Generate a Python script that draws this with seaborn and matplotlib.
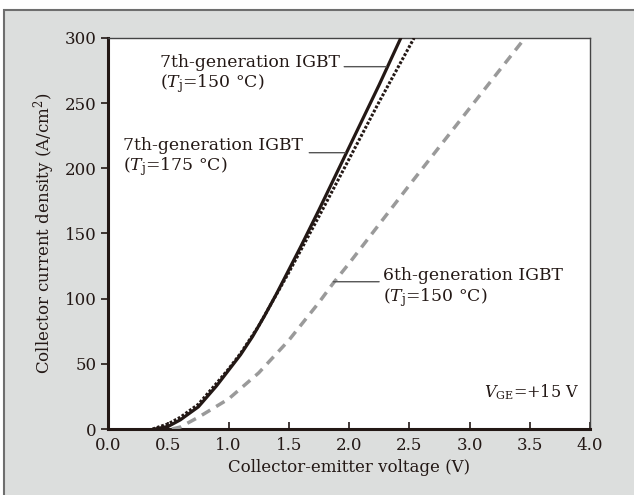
import pandas as pd
import matplotlib.pyplot as plt
import matplotlib.patches as patches
import seaborn as sns

# Curvas (V, A/cm2)
v_7g_150 = [0.39, 0.5, 0.6, 0.75, 0.9, 1.0, 1.1, 1.2, 1.3, 1.4, 1.5, 1.6, 1.75, 2.0, 2.25, 2.43]
j_7g_150 = [0, 2, 7, 17, 33, 45, 57, 71, 87, 104, 122, 140, 168, 216, 264, 300]

v_7g_175 = [0.37, 0.5, 0.6, 0.75, 0.9, 1.0, 1.1, 1.25, 1.5, 1.75, 2.0, 2.25, 2.54]
j_7g_175 = [0, 4, 9, 19, 35, 46, 58, 79, 120, 163, 207, 251, 300]

v_6g_150 = [0.53, 0.6, 0.75, 1.0, 1.25, 1.5, 1.75, 1.87, 2.0, 2.5, 3.0, 3.46]
j_6g_150 = [0, 1.5, 9, 23, 43, 68, 97, 112, 127, 187, 246, 300]

x_ticks = [0.0, 0.5, 1.0, 1.5, 2.0, 2.5, 3.0, 3.5, 4.0]
y_ticks = [0, 50, 100, 150, 200, 250, 300]

df = pd.concat([
    pd.DataFrame({'v': v_7g_150, 'j': j_7g_150, 'serie': '7g150'}),
    pd.DataFrame({'v': v_7g_175, 'j': j_7g_175, 'serie': '7g175'}),
    pd.DataFrame({'v': v_6g_150, 'j': j_6g_150, 'serie': '6g150'}),
])

sns.set_style('ticks')
plt.rcParams['font.family'] = ['DejaVu Serif']
plt.rcParams['mathtext.fontset'] = 'dejavuserif'

fig = plt.figure(figsize=(6.34, 4.95), dpi=100)
fig.patch.set_facecolor('white')

# Fondo gris con marco
fondo = patches.Rectangle((4 / 634, -0.05), 1.1, (495 - 10) / 495 + 0.05,
                          transform=fig.transFigure, facecolor='#dcdedd',
                          edgecolor='#6e6e6e', linewidth=1.5, zorder=-10)
fig.add_artist(fondo)

ax = fig.add_axes([108 / 634, 66 / 495, 482 / 634, 391 / 495])
ax.set_zorder(1)
ax.set_facecolor('white')

estilos = {
    '7g150': dict(color='#231815', lw=2.3, ls='-'),
    '7g175': dict(color='#231815', lw=2.2, ls=(0, (0.9, 0.6))),
    '6g150': dict(color='#9a9a9a', lw=2.5, ls=(0, (2.8, 2.0))),
}
for serie, st in estilos.items():
    sns.lineplot(data=df[df['serie'] == serie], x='v', y='j', ax=ax,
                 color=st['color'], linewidth=st['lw'], linestyle=st['ls'],
                 sort=False, estimator=None, legend=False, zorder=3)

ax.set_xlim(0, 4.0)
ax.set_ylim(0, 300)
ax.set_xticks(x_ticks)
ax.set_xticklabels([f'{t:.1f}' for t in x_ticks])
ax.set_yticks(y_ticks)

ax.tick_params(axis='x', direction='in', length=5, width=1.2, labelsize=12,
               pad=6, colors='#231815')
ax.tick_params(axis='y', direction='out', length=5, width=1.2, labelsize=12,
               pad=3, colors='#231815')

for lado in ['left', 'bottom']:
    ax.spines[lado].set_linewidth(2.2)
    ax.spines[lado].set_color('#231815')
for lado in ['top', 'right']:
    ax.spines[lado].set_linewidth(1.0)
    ax.spines[lado].set_color('#444444')

ax.set_xlabel('Collector-emitter voltage (V)', fontsize=12, color='#231815', labelpad=3)
ax.set_ylabel('Collector current density (A/cm$^2$)', fontsize=12, color='#231815', labelpad=6)

# Etiquetas con líneas guía
txt = dict(fontsize=12.4, color='#231815', ha='left', va='top', linespacing=1.1)
ax.text(0.43, 288, '7th-generation IGBT\n($T_\\mathrm{j}$=150 °C)', **txt)
ax.text(0.125, 224, '7th-generation IGBT\n($T_\\mathrm{j}$=175 °C)', **txt)
ax.text(2.28, 124, '6th-generation IGBT\n($T_\\mathrm{j}$=150 °C)', **txt)

guia = dict(arrowstyle='-', color='#555555', lw=1.0, shrinkA=0, shrinkB=0)
ax.annotate('', xy=(2.31, 278), xytext=(1.96, 278), arrowprops=guia)
ax.annotate('', xy=(1.97, 212), xytext=(1.67, 212), arrowprops=guia)
ax.annotate('', xy=(1.87, 113), xytext=(2.25, 113), arrowprops=guia)

ax.text(3.91, 28, '$V_\\mathrm{GE}$=+15 V', fontsize=11.5, color='#231815',
        ha='right', va='center')

fig.savefig('out.png', dpi=100)
